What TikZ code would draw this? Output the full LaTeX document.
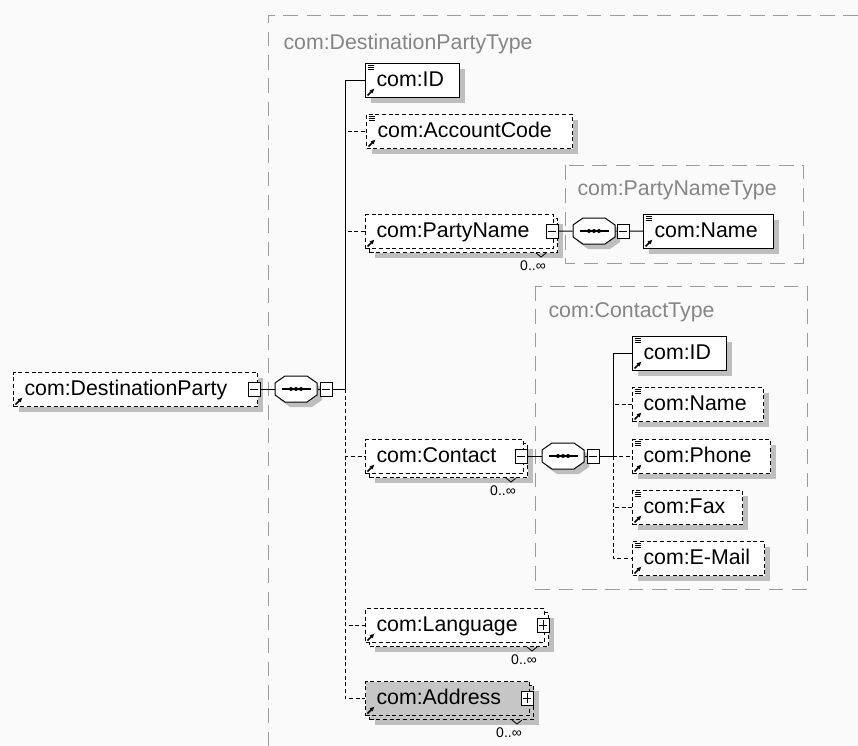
\documentclass[tikz,border=0pt]{standalone}
\usepackage{fontspec}
\setmainfont{Liberation Sans}
\usetikzlibrary{arrows.meta}
\definecolor{shadowc}{HTML}{BEBEBE}
\definecolor{addrc}{HTML}{C6C6C6}
\definecolor{typec}{HTML}{9C9C9C}
\definecolor{titlec}{HTML}{858585}
\definecolor{bgc}{HTML}{FAFAFA}
\newcommand\elemfont{\fontsize{16}{19}\selectfont}
\newcommand\docicon{\foreach \yy in {2,4,6} \draw[solid,line width=.5pt] ([shift={(2,\yy)}]path picture bounding box.north west) -- ++(6,0);}
\newcommand\refarrow{\draw[solid,line width=1.2pt,-{Latex[length=3.5pt,width=3.5pt]}] ([shift={(2,-2)}]path picture bounding box.south west) -- ++(7,-7);}
\tikzset{
  elem/.style={draw, fill=white, anchor=north west, inner xsep=8.25pt, inner ysep=0pt, minimum height=25.5pt, text height=11.5pt, text depth=3pt, align=left, font=\elemfont},
  optl/.style={dash pattern=on 3pt off 2pt},
  shd/.style={preaction={fill=shadowc, transform canvas={shift={(#1,#1)}}}},
  stack/.style={preaction={draw, optl, fill=#1, transform canvas={shift={(4,4)}}}},
  stack/.default=white,
  simple/.style={path picture={\docicon\refarrow}},
  complex/.style={path picture={\refarrow}},
  btn/.style={draw, fill=white, solid, minimum width=9pt, minimum height=10.5pt, inner sep=0pt, line width=.6pt},
  minus/.style={btn, path picture={\draw ([xshift=1.5pt]path picture bounding box.west) -- ([xshift=-1.5pt]path picture bounding box.east);}},
  plus/.style={btn, path picture={\draw ([xshift=1.5pt]path picture bounding box.west) -- ([xshift=-1.5pt]path picture bounding box.east) ([yshift=1.5pt]path picture bounding box.south) -- ([yshift=-1.5pt]path picture bounding box.north);}},
  typebox/.style={draw=typec, dash pattern=on 11pt off 6.5pt, line width=.75pt},
  title/.style={anchor=base west, text=titlec, font=\elemfont, inner sep=0pt},
  mult/.style={font=\fontsize{10.5}{12}\selectfont, inner sep=0pt}
}
\begin{document}
\begin{tikzpicture}[x=0.75pt,y=-0.75pt,line width=.75pt]
\useasboundingbox (0,0) rectangle (858,746);
\fill[bgc] (0,0) rectangle (858,746);
\draw[typebox] (858,15) -- (268,15) -- (268,746);
\draw[typebox] (565,165) rectangle (803,263);
\draw[typebox] (535,286) rectangle (807,589);
\node[title] (tdp) at (283,50) {com:DestinationPartyType};
\node[title] (tpn) at (577,195) {com:PartyNameType};
\node[title] (tct) at (548,317) {com:ContactType};
\foreach \n/\x/\y in {s1/296/389,s2/594/231,s3/563/456} {
  \fill[shadowc,shift={(\x+5,\y+5)}] (-21,-6) -- (-11,-13) -- (11,-13) -- (21,-6) -- (21,6) -- (11,13) -- (-11,13) -- (-21,6) -- cycle;
  \draw[fill=white,shift={(\x,\y)}] (-21,-6) -- (-11,-13) -- (11,-13) -- (21,-6) -- (21,6) -- (11,13) -- (-11,13) -- (-21,6) -- cycle;
  \draw[line width=1pt,shift={(\x,\y)}] (-14,0) -- (15,0);
  \foreach \d in {-5,0,5} \fill[shift={(\x,\y)}] (\d,0) circle (2);
  \node[minimum width=31.5pt,minimum height=19.5pt,inner sep=0pt] (\n) at (\x,\y) {};
}
\node[elem,optl,shd=5,complex,text width=166.5pt] (dp) at (13,372) {com:DestinationParty};
\node[elem,shd=5,simple,text width=54pt] (id1) at (365,63) {com:ID};
\node[elem,optl,shd=5,simple,text width=138pt] (acc) at (366,114) {com:AccountCode};
\node[elem,optl,shd=9,stack,complex,text width=124.5pt] (pn) at (365,214) {com:PartyName};
\node[elem,shd=5,simple,text width=81pt] (nm) at (643,214) {com:Name};
\node[elem,optl,shd=9,stack,complex,text width=102pt] (ct) at (365,439) {com:Contact};
\node[elem,shd=5,simple,text width=54pt] (id2) at (632,336) {com:ID};
\node[elem,optl,shd=5,simple,text width=81.75pt] (nm2) at (632,387) {com:Name};
\node[elem,optl,shd=5,simple,text width=87pt] (ph) at (632,439) {com:Phone};
\node[elem,optl,shd=5,simple,text width=66pt] (fx) at (632,490) {com:Fax};
\node[elem,optl,shd=5,simple,text width=82.5pt] (em) at (632,541) {com:E-Mail};
\node[elem,optl,shd=9,stack,complex,text width=117.75pt] (lg) at (365,608) {com:Language};
\node[elem,optl,shd=9,stack=addrc,complex,fill=addrc,text width=106.5pt] (ad) at (365,681) {com:Address};
\node[minus] (m0) at (254,389) {};
\node[minus] (m1) at (326,389) {};
\node[minus] (m2) at (552,231) {};
\node[minus] (m3) at (623,231) {};
\node[minus] (m4) at (521,456) {};
\node[minus] (m5) at (593,456) {};
\node[plus] (p1) at (543,625) {};
\node[plus] (p2) at (527,698) {};
\coordinate (t1) at (345,389);
\coordinate (t2) at (613,456);
\draw (m0) -- (s1) (s1) -- (m1) (m1) -- (t1) (t1) |- (id1);
\foreach \n in {acc,pn,ct,lg,ad} \draw[optl] (t1) |- (\n);
\draw (m2) -- (s2) (s2) -- (m3) (m3) -- (nm);
\draw (m4) -- (s3) (s3) -- (m5) (m5) -- (t2) (t2) |- (id2);
\foreach \n in {nm2,ph,fx,em} \draw[optl] (t2) |- (\n);
\foreach \n in {pn,ct,lg,ad} {
  \draw[line width=.6pt] ([shift={(-18,4)}]\n.south east) -- ++(5,4) -- ++(5,-4);
  \node[mult] (\n-occ) at ([shift={(-21,17)}]\n.south east) {0..∞};
}
\end{tikzpicture}
\end{document}
